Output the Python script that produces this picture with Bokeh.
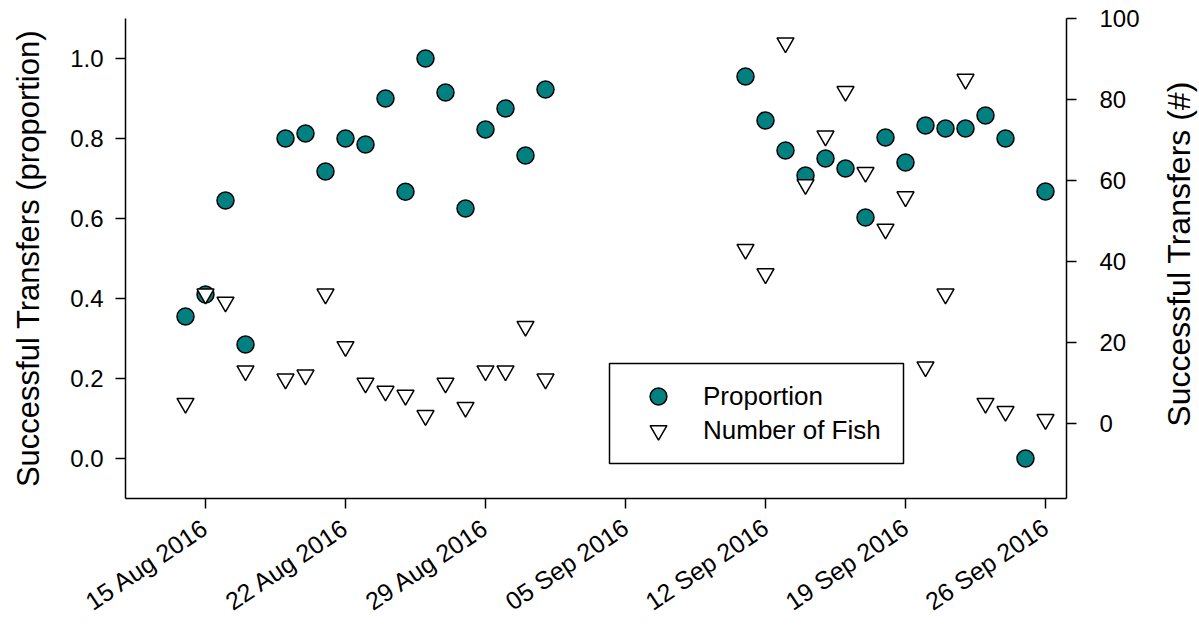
import math
from datetime import datetime
import pandas as pd
from bokeh.plotting import figure
from bokeh.layouts import row
from bokeh.core.properties import value
from bokeh.models import (Range1d, LinearAxis, FixedTicker, DatetimeTickFormatter,
                          Legend, LegendItem, ColumnDataSource, PrintfTickFormatter,
                          BoxAnnotation)
from bokeh.embed import file_html
from bokeh.resources import INLINE

nan = float("nan")

dates = ["2016-08-14", "2016-08-15", "2016-08-16", "2016-08-17", "2016-08-19",
         "2016-08-20", "2016-08-21", "2016-08-22", "2016-08-23", "2016-08-24",
         "2016-08-25", "2016-08-26", "2016-08-27", "2016-08-28", "2016-08-29",
         "2016-08-30", "2016-08-31", "2016-09-01",
         "2016-09-11", "2016-09-12", "2016-09-13", "2016-09-14", "2016-09-15",
         "2016-09-16", "2016-09-17", "2016-09-18", "2016-09-19", "2016-09-20",
         "2016-09-21", "2016-09-22", "2016-09-23", "2016-09-24", "2016-09-25",
         "2016-09-26"]

proportion = [0.355, 0.41, 0.645, 0.285, 0.80,
              0.8125, 0.7175, 0.80, 0.785, 0.90,
              0.667, 1.0, 0.915, 0.625, 0.8225,
              0.875, 0.7575, 0.9225,
              0.955, 0.845, 0.77, 0.7075, 0.75,
              0.725, 0.6025, 0.8025, 0.74, 0.8325,
              0.825, 0.825, 0.8575, 0.80, 0.0,
              0.6675]

fish = [5, 32, 30, 13, 11,
        12, 32, 19, 10, 8,
        7, 2, 10, 4, 13,
        13, 24, 11,
        43, 37, 94, 59, 71,
        82, 62, 48, 56, 14,
        32, 85, 5, 3, nan,
        1]

date_ticks = ["2016-08-15", "2016-08-22", "2016-08-29", "2016-09-05",
              "2016-09-12", "2016-09-19", "2016-09-26"]
left_ticks = [0.0, 0.2, 0.4, 0.6, 0.8, 1.0]
right_ticks = [0, 20, 40, 60, 80, 100]

left_title = "Successful Transfers (proportion)"
right_title = "Successful Transfers (#)"

FONT = "Liberation Sans"

src = ColumnDataSource(dict(x=pd.to_datetime(dates), prop=proportion, fish=fish))

MAIN_W = 1150
p = figure(width=MAIN_W, height=630, x_axis_type="datetime",
           x_range=Range1d(datetime(2016, 8, 11), datetime(2016, 9, 27, 1, 12)),
           y_range=Range1d(-0.1, 1.1),
           output_backend="svg", toolbar_location=None,
           min_border_left=125, min_border_right=MAIN_W - 1066,
           min_border_top=18, min_border_bottom=132)
p.extra_y_ranges = {"fish": Range1d(-18.5, 100)}
p.outline_line_color = None
p.xgrid.visible = False
p.ygrid.visible = False
p.background_fill_color = "white"
p.border_fill_color = "white"

r1 = p.scatter("x", "prop", source=src, marker="circle", size=17,
               fill_color="#008080", line_color="black", line_width=1.5)
r2 = p.scatter("x", "fish", source=src, marker="inverted_triangle", size=17,
               fill_color="white", line_color="black", line_width=1.5,
               y_range_name="fish")

right = LinearAxis(y_range_name="fish")
p.add_layout(right, "right")

for ax in [p.xaxis[0], p.yaxis[0], right]:
    ax.axis_line_color = "black"
    ax.axis_line_width = 1.5
    ax.major_tick_line_color = "black"
    ax.major_tick_line_width = 1.5
    ax.major_tick_out = 10
    ax.major_tick_in = 0
    ax.minor_tick_out = 0
    ax.minor_tick_in = 0
    ax.major_label_text_font = FONT
    ax.major_label_text_font_size = "24px"
    ax.major_label_text_color = "black"
    ax.axis_label_text_font = FONT
    ax.axis_label_text_font_size = "31px"
    ax.axis_label_text_font_style = "normal"
    ax.axis_label_text_color = "black"

xa = p.xaxis[0]
xa.ticker = FixedTicker(ticks=[pd.Timestamp(d).value / 1e6 for d in date_ticks])
fmt = "%d %b %Y"
xa.formatter = DatetimeTickFormatter(days=fmt, months=fmt, hours=fmt, years=fmt,
                                     minutes=fmt, hourmin=fmt, seconds=fmt)
xa.major_label_orientation = math.radians(34)
xa.major_label_text_font_size = "25px"
xa.major_label_standoff = 16

ya = p.yaxis[0]
ya.ticker = FixedTicker(ticks=left_ticks)
ya.formatter = PrintfTickFormatter(format="%.1f")
ya.axis_label = left_title
ya.major_label_standoff = 12
ya.axis_label_standoff = 21

right.ticker = FixedTicker(ticks=right_ticks)
right.major_label_standoff = 23

# legend box (screen units relative to the plot frame)
p.add_layout(BoxAnnotation(left=484, right=778, bottom=35, top=135,
                           left_units="screen", right_units="screen",
                           bottom_units="screen", top_units="screen",
                           fill_color="white", fill_alpha=1.0,
                           line_color="black", line_width=1.5, line_alpha=1.0))

common = dict(margin=0, padding=0, spacing=0, glyph_width=74, glyph_height=42,
              label_standoff=8, label_width=188, label_text_font=FONT,
              label_text_font_size="26px", label_text_color="black",
              border_line_color=None, background_fill_alpha=0.0)
leg1 = Legend(items=[LegendItem(label="Proportion", renderers=[r1])],
              location=(496, 81), **common)
leg2 = Legend(items=[LegendItem(label="Number of Fish", renderers=[r2])],
              location=(496, 47), **common)
p.add_layout(leg1)
p.add_layout(leg2)

# narrow strip on the right holding the right-hand axis title (reads bottom to top)
TW = 1199 - MAIN_W
pt = figure(width=TW, height=630, output_backend="svg", toolbar_location=None,
            x_range=Range1d(0, TW), y_range=Range1d(0, 630),
            min_border=0, min_border_left=0, min_border_right=0,
            min_border_top=0, min_border_bottom=0)
pt.axis.visible = False
pt.grid.visible = False
pt.outline_line_color = None
pt.background_fill_color = "white"
pt.border_fill_color = "white"
pt.text(x=[28], y=[321], text=[right_title], angle=math.pi / 2,
        text_align="center", text_baseline="middle", text_font=value(FONT),
        text_font_size="32px", text_color="black")

layout = row(p, pt, spacing=0)
open("out.html", "w").write(file_html(layout, INLINE))
